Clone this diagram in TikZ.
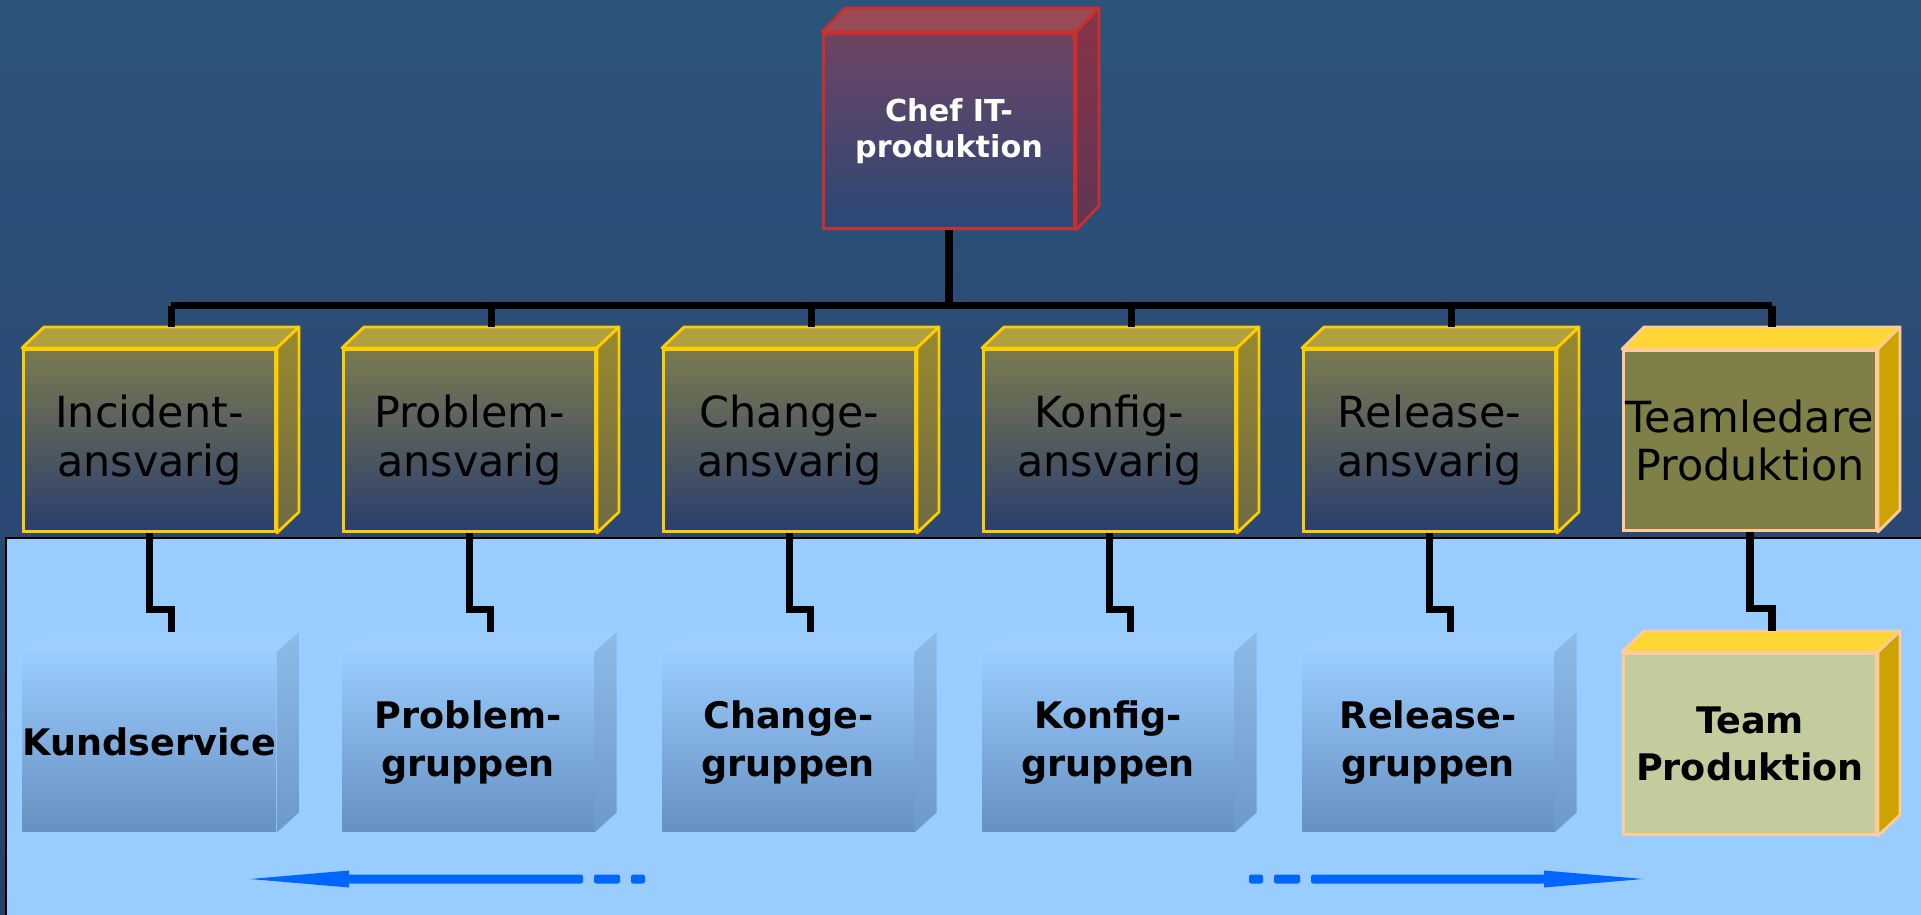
\documentclass[tikz,border=0pt]{standalone}
\usepackage{fontspec}
\newfontfamily\dv{DejaVu Sans}
\usetikzlibrary{calc}

% backdrop and panel
\definecolor{bgtop}{HTML}{2C547B}
\definecolor{bgbot}{HTML}{283F6D}
\definecolor{panelblue}{HTML}{99CCFF}
% head of IT production
\definecolor{chefA}{HTML}{6E4462}
\definecolor{chefB}{HTML}{573F68}
\definecolor{chefC}{HTML}{2A4878}
\definecolor{chefTop}{HTML}{9B4A58}
\definecolor{chefSideA}{HTML}{8A3345}
\definecolor{chefSideB}{HTML}{5E3657}
\definecolor{chefLine}{HTML}{CC2E2E}
% process owners
\definecolor{ownA}{HTML}{7A7A50}
\definecolor{ownB}{HTML}{5B5E64}
\definecolor{ownC}{HTML}{2B3D6E}
\definecolor{ownTop}{HTML}{B0A040}
\definecolor{ownSideA}{HTML}{9A8A2E}
\definecolor{ownSideB}{HTML}{6E6A45}
\definecolor{ownLine}{HTML}{FFCC00}
% team lead / team
\definecolor{leadFront}{HTML}{7F7F48}
\definecolor{teamFront}{HTML}{C2CC9C}
\definecolor{goldTop}{HTML}{FFD633}
\definecolor{goldSide}{HTML}{CCA300}
\definecolor{peachLine}{HTML}{FFCC99}
% groups
\definecolor{grpA}{HTML}{9ACCFD}
\definecolor{grpB}{HTML}{6690C2}
\definecolor{grpTop}{HTML}{9DCEFF}
\definecolor{grpSideA}{HTML}{8DBBE8}
\definecolor{grpSideB}{HTML}{6D99C8}
\definecolor{arrowblue}{HTML}{0066FF}

% top and side faces of a box whose front face is node #1
\newcommand\cubefaces[5]{%
  \path[#4] (#1.north west) -- ++(#2,#3) -- ([shift={(#2,#3)}]#1.north east) -- (#1.north east) -- cycle;
  \path[#5] (#1.north east) -- ++(#2,#3) -- ([shift={(#2,#3)}]#1.south east) -- (#1.south east) -- cycle;
  \coordinate (#1-back) at ([shift={(#2,#3)}]#1.north);}

\begin{document}
\begin{tikzpicture}[x=0.01cm,y=-0.01cm,
  frontbox/.style={rectangle, inner sep=0pt, align=center, anchor=north west},
  chefbox/.style={frontbox, minimum width=2.51cm, minimum height=1.95cm,
    draw=chefLine, line width=0.8pt, top color=chefA, middle color=chefB, bottom color=chefC,
    text=white, font=\dv\bfseries\fontsize{8.6}{10.3}\selectfont},
  chefface/.style={draw=chefLine, line width=0.8pt, line join=round, fill=chefTop},
  chefside/.style={draw=chefLine, line width=0.8pt, line join=round, top color=chefSideA, bottom color=chefSideB},
  ownbox/.style={frontbox, minimum width=2.52cm, minimum height=1.82cm,
    draw=ownLine, line width=0.8pt, top color=ownA, middle color=ownB, bottom color=ownC,
    font=\dv\fontsize{12.2}{13.9}\selectfont},
  ownface/.style={draw=ownLine, line width=0.8pt, line join=round, fill=ownTop},
  ownside/.style={draw=ownLine, line width=0.8pt, line join=round, top color=ownSideA, bottom color=ownSideB},
  leadbox/.style={frontbox, minimum width=2.53cm, minimum height=1.80cm,
    draw=peachLine, line width=0.8pt, fill=leadFront,
    font=\dv\fontsize{12.2}{13.9}\selectfont},
  goldface/.style={draw=peachLine, line width=0.8pt, line join=round, fill=goldTop},
  goldside/.style={draw=peachLine, line width=0.8pt, line join=round, fill=goldSide},
  grpbox/.style={frontbox, minimum width=2.51cm, minimum height=1.79cm,
    top color=grpA, bottom color=grpB,
    font=\dv\bfseries\fontsize{10.4}{13.6}\selectfont},
  grpface/.style={fill=grpTop},
  grpside/.style={top color=grpSideA, bottom color=grpSideB},
  teambox/.style={frontbox, minimum width=2.53cm, minimum height=1.81cm,
    draw=peachLine, line width=0.8pt, fill=teamFront,
    font=\dv\bfseries\fontsize{10.4}{13.2}\selectfont},
  link/.style={line width=2pt, black},
  arrowpart/.style={fill=arrowblue, rounded corners=0.6pt}]

\useasboundingbox (0,0) rectangle (1921,914);

% backdrop and light panel
\shade[top color=bgtop, bottom color=bgbot] (0,0) rectangle (1921,914);
\fill[panelblue] (6,538) rectangle (1930,920);
\draw[line width=0.7pt, black] (6,920) -- (6,538) -- (1930,538);

% head of IT production
\node[chefbox] (chef) at (822,32) {Chef IT-\\produktion};
\cubefaces{chef}{0.23cm}{0.24cm}{chefface}{chefside}

% process owners
\node[ownbox] (m1) at (22,348)   {Incident-\\ansvarig};
\node[ownbox] (m2) at (342,348)  {Problem-\\ansvarig};
\node[ownbox] (m3) at (662,348)  {Change-\\ansvarig};
\node[ownbox] (m4) at (982,348)  {Konfig-\\ansvarig};
\node[ownbox] (m5) at (1302,348) {Release-\\ansvarig};
\foreach \n in {m1,m2,m3,m4,m5} {\cubefaces{\n}{0.22cm}{0.21cm}{ownface}{ownside}}
\node[leadbox] (m6) at (1622,349) {Teamledare\\Produktion};
\cubefaces{m6}{0.22cm}{0.22cm}{goldface}{goldside}

% groups
\node[grpbox] (b1) at (22,652)   {Kundservice};
\node[grpbox] (b2) at (342,652)  {Problem-\\gruppen};
\node[grpbox] (b3) at (662,652)  {Change-\\gruppen};
\node[grpbox] (b4) at (982,652)  {Konfig-\\gruppen};
\node[grpbox] (b5) at (1302,652) {Release-\\gruppen};
\foreach \n in {b1,b2,b3,b4,b5} {\cubefaces{\n}{0.22cm}{0.20cm}{grpface}{grpside}}
\node[teambox] (b6) at (1622,652) {Team\\Produktion};
\cubefaces{b6}{0.22cm}{0.21cm}{goldface}{goldside}

% connectors from the head down to the owners
\draw[link] (chef.south) -- ++(0,76) coordinate (hub);
\draw[link] (m1-back |- hub) -- (m6-back |- hub);
\foreach \n in {m1,m2,m3,m4,m5,m6}
  {\draw[link] (\n-back) -- (\n-back |- hub);}

% connectors from each owner to its group
\foreach \a/\b in {m1/b1,m2/b2,m3/b3,m4/b4,m5/b5,m6/b6}
  {\draw[link] (\a.south) -- ++(0,77) -| (\b-back);}

% left-pointing arrow
\fill[arrowblue] (250,879) -- (349,870.5) -- (349,887.5) -- cycle;
\fill[arrowpart] (348,874.5) rectangle (583,883.5);
\fill[arrowpart] (594,874.5) rectangle (620,883.5);
\fill[arrowpart] (631,874.5) rectangle (645,883.5);

% right-pointing arrow
\fill[arrowpart] (1249,874.5) rectangle (1263,883.5);
\fill[arrowpart] (1274,874.5) rectangle (1300,883.5);
\fill[arrowpart] (1311,874.5) rectangle (1545,883.5);
\fill[arrowblue] (1643,879) -- (1544,870.5) -- (1544,887.5) -- cycle;

\end{tikzpicture}
\end{document}
